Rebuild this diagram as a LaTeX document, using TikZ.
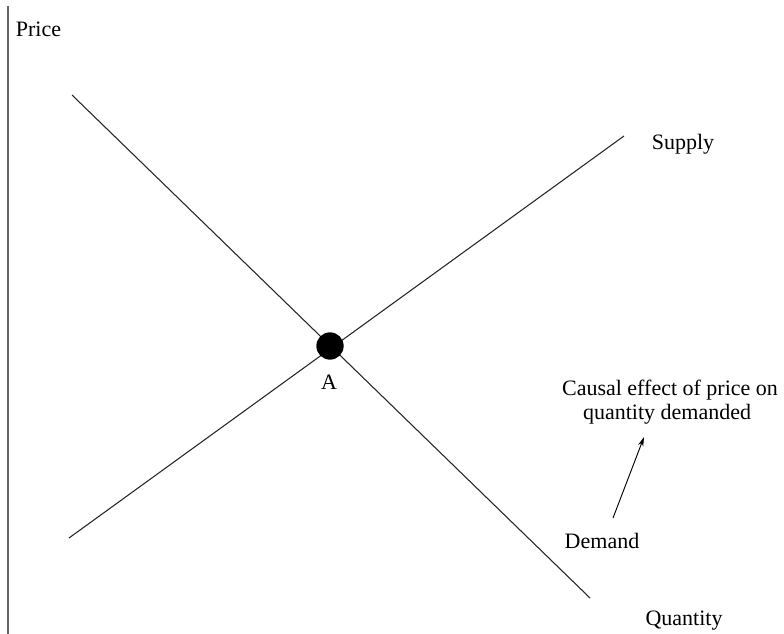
\documentclass[tikz,border=0pt]{standalone}
\usepackage{fontspec}
\setmainfont{Liberation Serif}
\usetikzlibrary{arrows.meta}
\begin{document}
\begin{tikzpicture}[x=0.75pt,y=-0.75pt,
  lbl/.style={font=\fontsize{16.5}{18}\selectfont, inner sep=0pt, anchor=base},
  curve/.style={line width=0.8pt, black!85},
  axisline/.style={line width=1.4pt, black!60},
  pointA/.style={circle, fill=black, minimum size=20.5pt, inner sep=0pt},
  causal/.style={line width=0.7pt, -{Stealth[length=7pt,width=4pt]}}]
\useasboundingbox (0,0) rectangle (784,634);
\coordinate (ax1) at (8,6);
\coordinate (ax2) at (8,634);
\draw[axisline] (ax1) -- (ax2);
\coordinate (d1) at (72,95);
\coordinate (d2) at (590,598);
\coordinate (s1) at (69,538);
\coordinate (s2) at (624,136);
\draw[curve] (d1) -- (d2);
\draw[curve] (s1) -- (s2);
\node[pointA] (A) at (330,346) {};
\node[lbl] (Alab) at (329,389) {A};
\node[lbl] (price) at (38.5,37) {Price};
\node[lbl] (supply) at (683,150) {Supply};
\node[lbl] (demand) at (602,548) {Demand};
\node[lbl] (quantity) at (684,625) {Quantity};
\node[lbl] (c1) at (670,395) {Causal effect of price on};
\node[lbl] (c2) at (667,419) {quantity demanded};
\coordinate (tail) at (613,518);
\coordinate (head) at (644,437);
\draw[causal] (tail) -- (head);
\end{tikzpicture}
\end{document}
